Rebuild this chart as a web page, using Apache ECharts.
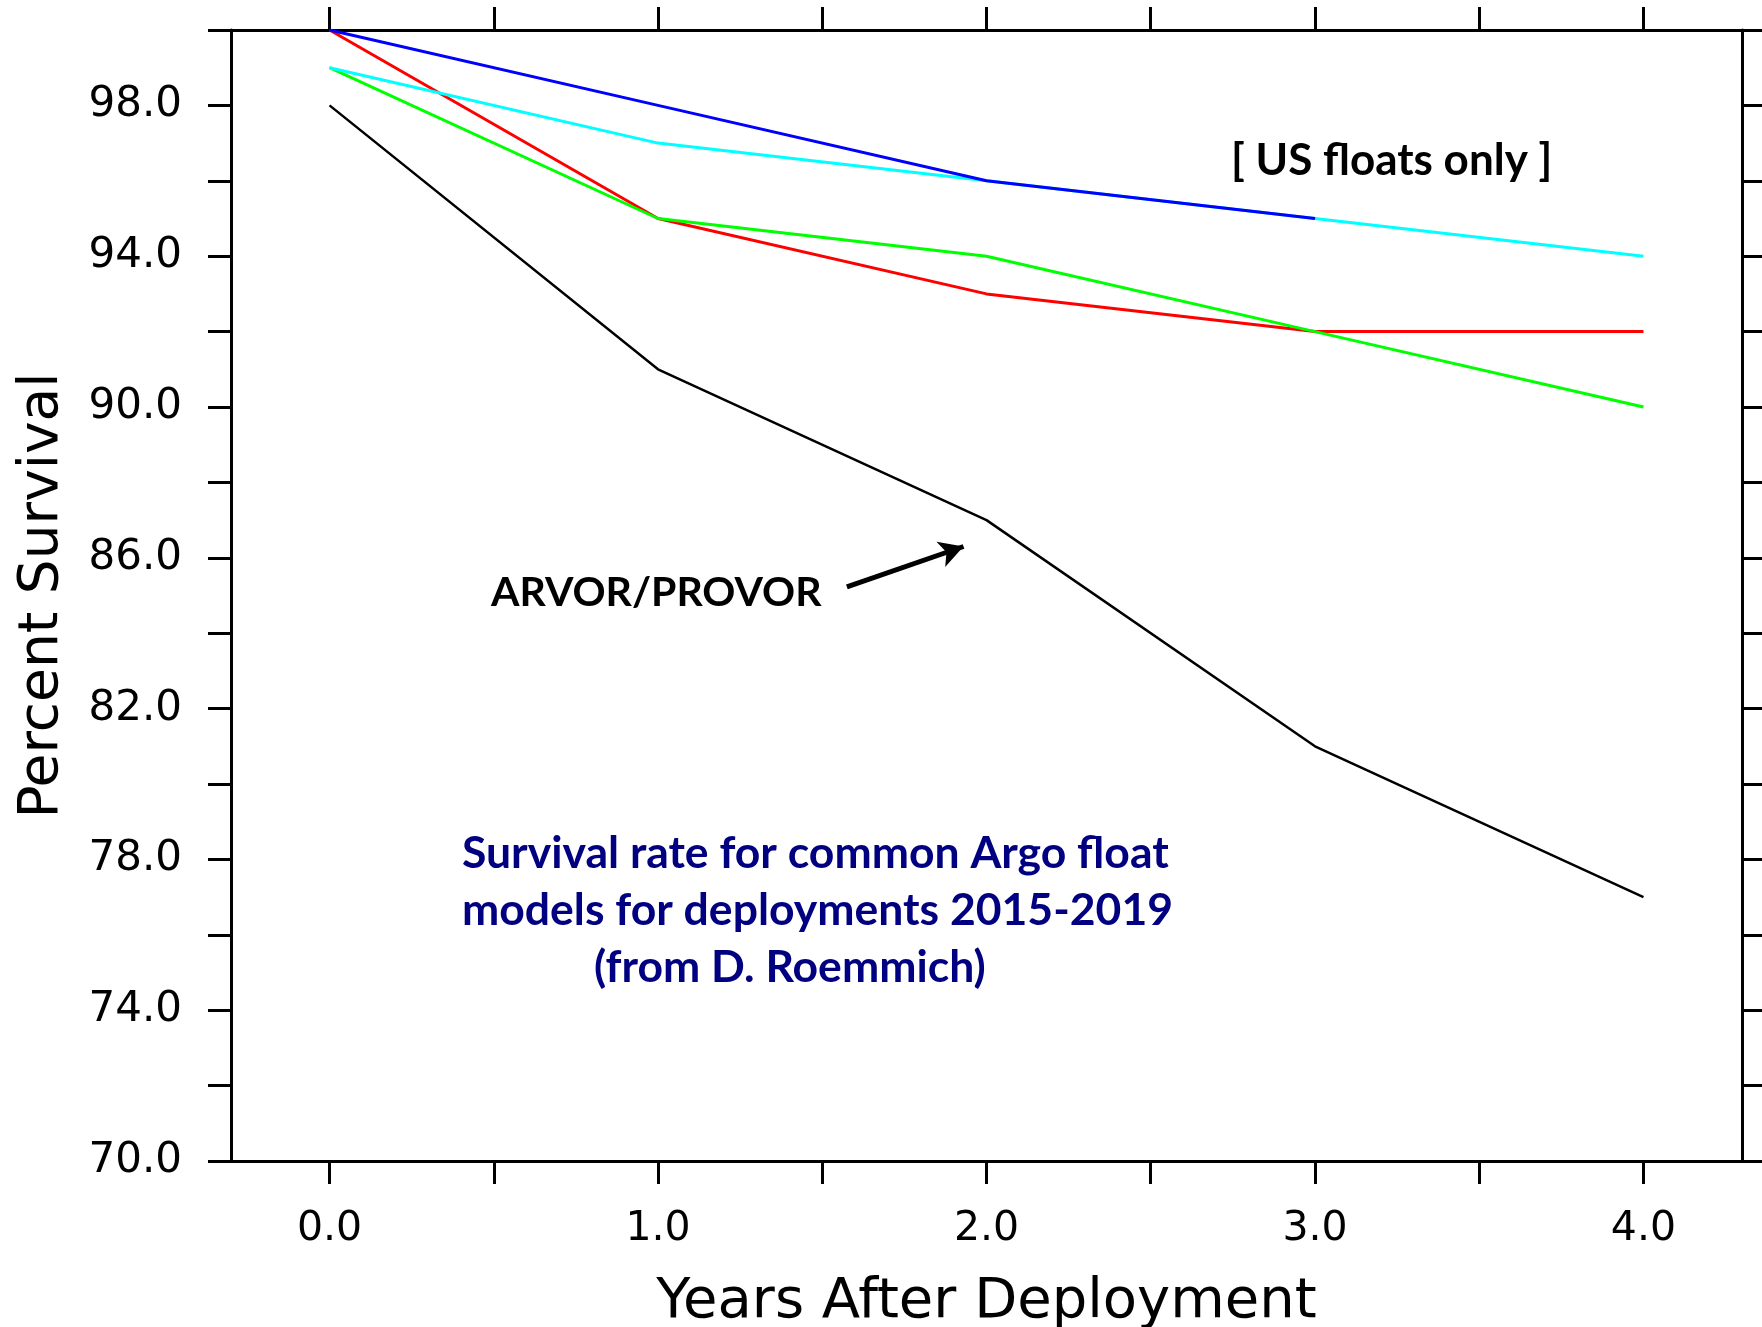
<!DOCTYPE html>
<html>
<head>
<meta charset="utf-8">
<script src="https://cdn.jsdelivr.net/npm/echarts@6/dist/echarts.min.js"></script>
<style>
  html, body { margin: 0; padding: 0; background: #fff; }
  #chart { width: 1762px; height: 1327px; }
</style>
</head>
<body>
<div id="chart"></div>
<script>
// years after deployment
const years = [0, 1, 2, 3, 4]

// percent survival per float model
const arvorProvor = [98, 91, 87, 81, 77]
const redModel = [100, 95, 93, 92, 92]
const greenModel = [99, 95, 94, 92, 90]
const cyanModel = [99, 97, 96, 95, 94]
const blueModel = [100, 98, 96, 95]

// ticks and labels
const xTicks = [0, 0.5, 1, 1.5, 2, 2.5, 3, 3.5, 4]
const xLabels = [0, 1, 2, 3, 4]
const yLabels = [70, 74, 78, 82, 86, 90, 94, 98]

const tickFont = 'DejaVu Sans'
const noteFont = 'Lato, "Open Sans", sans-serif'

function pairs(ys) {
  return ys.map((y, i) => [years[i], y])
}

function frameAxis(extra) {
  return {
    type: 'value',
    axisLine: { show: true, onZero: false, lineStyle: { color: '#000', width: 3 } },
    axisTick: { show: true, inside: false, length: 23, lineStyle: { color: '#000', width: 3 } },
    splitLine: { show: false },
    ...extra
  }
}

function line(name, ys, color, width) {
  return {
    name: name,
    type: 'line',
    data: pairs(ys),
    symbol: 'none',
    silent: true,
    lineStyle: { color: color, width: width },
    z: 3
  }
}

const chart = echarts.init(document.getElementById('chart'))

const options = {
  backgroundColor: '#fff',
  animation: false,
  grid: { left: 231, right: 20, top: 30, bottom: 166, outerBoundsMode: 'none' },
  xAxis: [
    frameAxis({
      position: 'bottom', min: -0.3, max: 4.3,
      axisTick: { show: true, inside: false, length: 23, customValues: xTicks, lineStyle: { color: '#000', width: 3 } },
      axisLabel: {
        customValues: xLabels, formatter: (v) => v.toFixed(1),
        margin: 48, fontSize: 41, fontFamily: tickFont, color: '#000'
      },
      name: 'Years After Deployment', nameLocation: 'middle', nameGap: 113,
      nameTextStyle: { fontSize: 56, fontFamily: tickFont, color: '#000' }
    }),
    frameAxis({
      position: 'top', min: -0.3, max: 4.3,
      axisTick: { show: true, inside: false, length: 23, customValues: xTicks, lineStyle: { color: '#000', width: 3 } },
      axisLabel: { show: false }
    })
  ],
  yAxis: [
    frameAxis({
      position: 'left', min: 70, max: 100, interval: 2,
      axisLabel: {
        customValues: yLabels, formatter: (v) => v.toFixed(1),
        margin: 49, fontSize: 42, fontFamily: tickFont, color: '#000'
      },
      name: 'Percent Survival', nameLocation: 'middle', nameGap: 161, nameRotate: 90,
      nameTextStyle: { fontSize: 55, fontFamily: tickFont, color: '#000' }
    }),
    frameAxis({
      position: 'right', min: 70, max: 100, interval: 2,
      axisLabel: { show: false }
    })
  ],
  series: [
    {
      ...line('ARVOR/PROVOR', arvorProvor, '#000', 2.5),
      markLine: {
        silent: true,
        symbol: ['none', 'arrow'],
        symbolSize: [20, 24],
        label: { show: false },
        lineStyle: { color: '#000', width: 5, type: 'solid' },
        data: [[{ coord: [1.575, 85.23] }, { coord: [1.93, 86.3] }]]
      }
    },
    line('red', redModel, '#ff0000', 3),
    line('green', greenModel, '#00ff00', 3),
    line('cyan', cyanModel, '#00ffff', 3),
    line('blue', blueModel, '#0000ff', 3)
  ],
  graphic: [
    {
      type: 'text', left: 1231, top: 139, silent: true,
      style: { text: '[ US floats only ]', font: 'bold 44px ' + noteFont, fill: '#000' }
    },
    {
      type: 'text', left: 491, top: 572, silent: true,
      style: { text: 'ARVOR/PROVOR', font: 'bold 41px ' + noteFont, fill: '#000' }
    },
    {
      type: 'text', left: 462, top: 831, silent: true,
      style: { text: 'Survival rate for common Argo float', font: 'bold 44.5px ' + noteFont, fill: '#000080' }
    },
    {
      type: 'text', left: 462, top: 888, silent: true,
      style: { text: 'models for deployments 2015-2019', font: 'bold 44.5px ' + noteFont, fill: '#000080' }
    },
    {
      type: 'text', left: 594, top: 945, silent: true,
      style: { text: '(from D. Roemmich)', font: 'bold 44.5px ' + noteFont, fill: '#000080' }
    }
  ]
}

chart.setOption(options)
</script>
</body>
</html>
